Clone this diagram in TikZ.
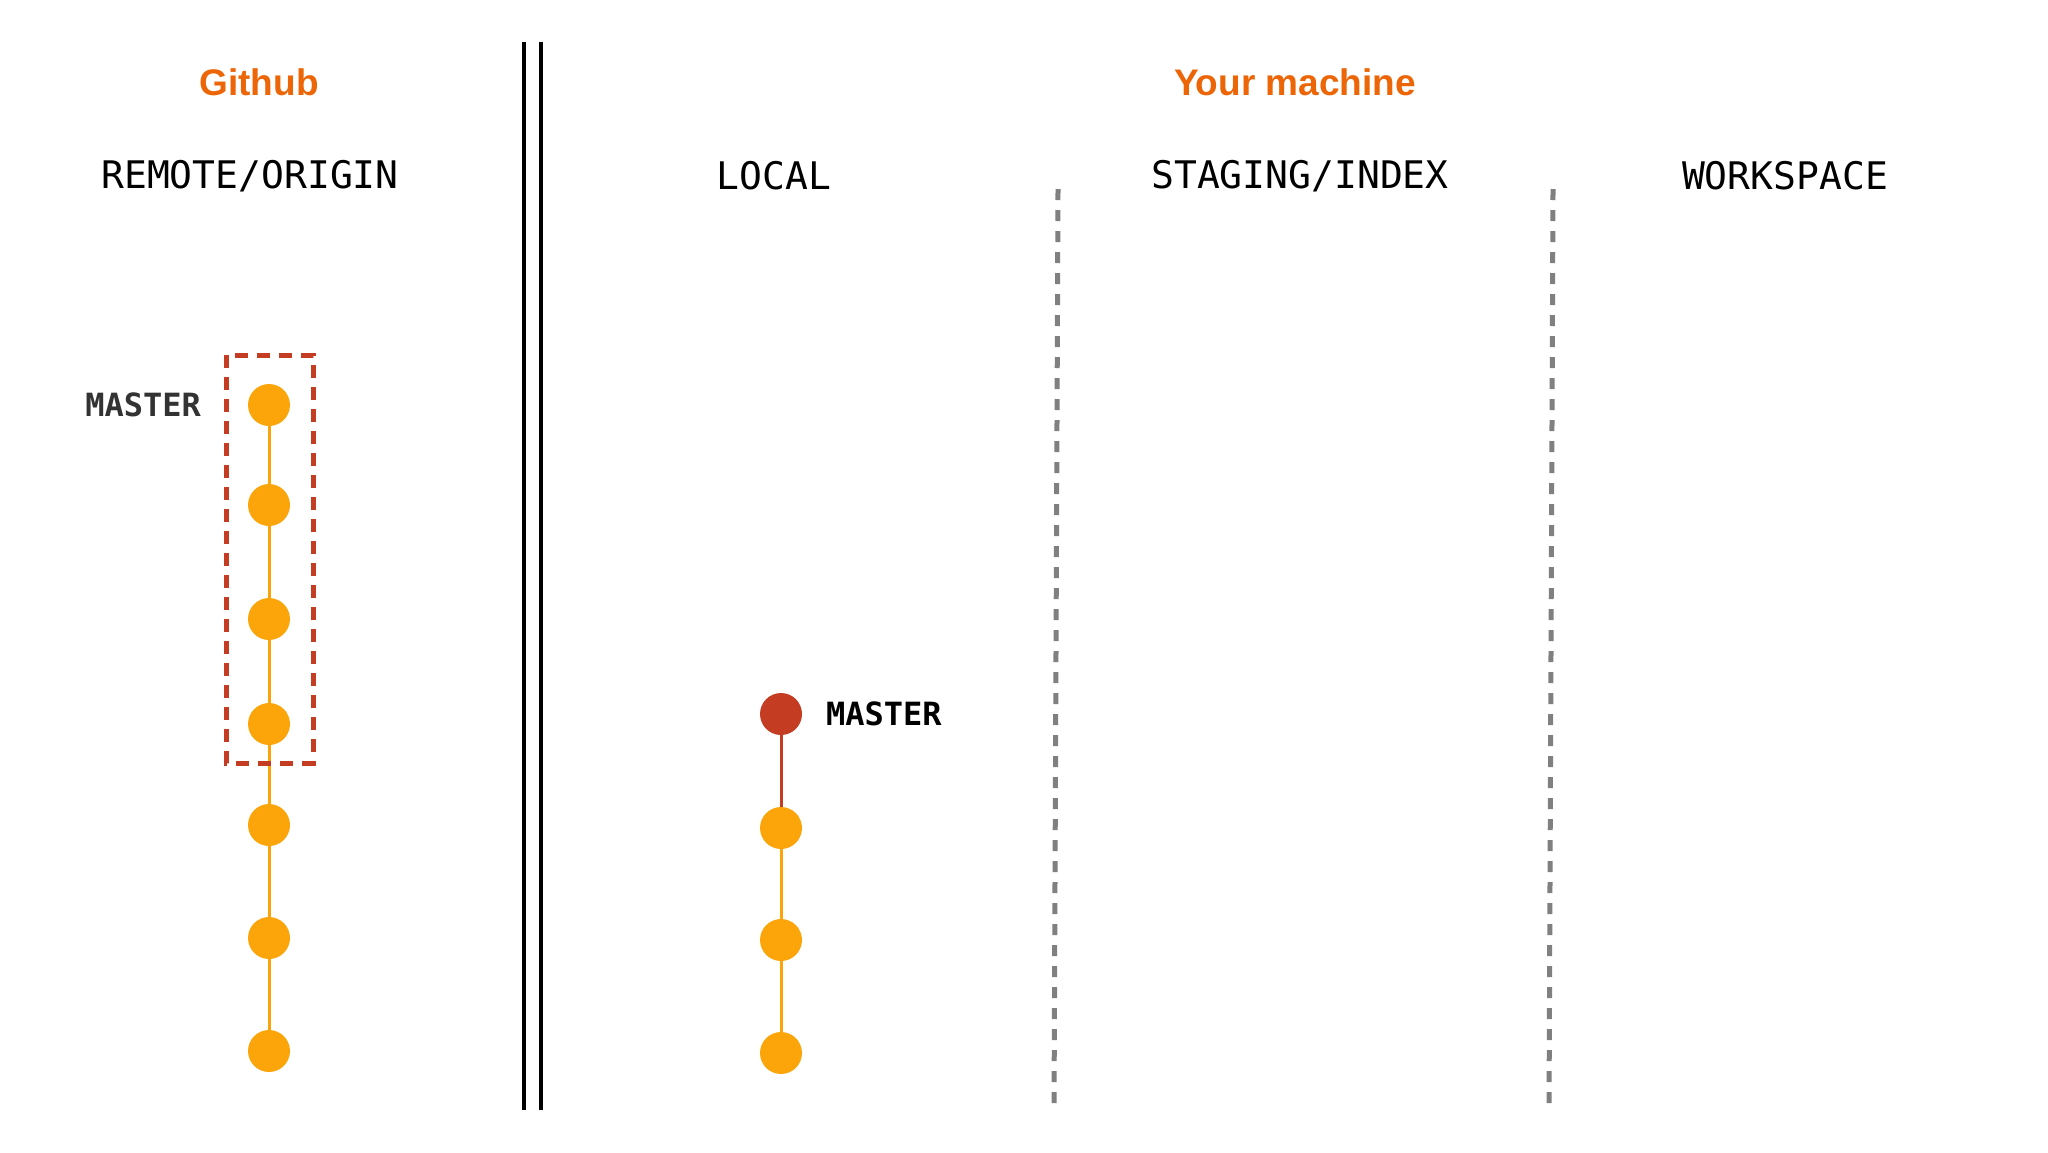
\documentclass[tikz,border=0pt]{standalone}
\usepackage{fontspec}
\setmainfont{Liberation Sans}
\setmonofont{DejaVu Sans Mono}
\definecolor{hdorange}{HTML}{EC6608}
\definecolor{commitc}{HTML}{FBA50A}
\definecolor{headc}{HTML}{C43D22}
\definecolor{divider}{HTML}{808080}
\tikzset{
  area/.style={font=\bfseries\fontsize{18.5}{22}\selectfont, text=hdorange},
  zone/.style={font=\ttfamily\fontsize{19}{23}\selectfont},
  branch/.style={font=\ttfamily\bfseries\fontsize{16}{19}\selectfont},
  dot/.style={circle, fill=commitc, minimum size=21pt, inner sep=0pt},
  link/.style={commitc, line width=1.5pt}
}
\begin{document}
\begin{tikzpicture}[x=0.5pt,y=-0.5pt]
\useasboundingbox (0,0) rectangle (2048,1152);
% headings
\node[area] (github) at (259,82) {Github};
\node[area] (machine) at (1295,82) {Your machine};
\node[zone] (remote) at (250,176) {REMOTE/ORIGIN};
\node[zone] (local) at (774,176) {LOCAL};
\node[zone] (staging) at (1300,176) {STAGING/INDEX};
\node[zone] (work) at (1785,176) {WORKSPACE};
% dividers
\draw[line width=2.3pt](524,42)--(524,1110);
\draw[line width=2.3pt](541,42)--(541,1110);
\draw[divider, line width=2.5pt, dash pattern=on 5.5pt off 5pt](1058,189)--(1054,1110);
\draw[divider, line width=2.5pt, dash pattern=on 5.5pt off 5pt](1553,189)--(1549,1110);
% remote history
\foreach \y [count=\i] in {405,505,619,724,825,938,1051}
    \node[dot] (r\i) at (269,\y) {};
\foreach \i/\j in {1/2,2/3,3/4,4/5,5/6,6/7}
    \draw[link] (r\i)--(r\j);
\draw[headc, line width=2.5pt, dash pattern=on 6.5pt off 4.5pt](226,355) rectangle (313,763);
\node[branch, text=black!80, anchor=east] (rmaster) at (208,405) {MASTER};
% local history
\node[dot, fill=headc] (l1) at (781,714) {};
\foreach \y [count=\i from 2] in {828,940,1053}
    \node[dot] (l\i) at (781,\y) {};
\draw[headc, line width=1.5pt] (l1)--(l2);
\foreach \i/\j in {2/3,3/4}
    \draw[link] (l\i)--(l\j);
\node[branch, anchor=west] (lmaster) at (819,714) {MASTER};
\end{tikzpicture}
\end{document}
